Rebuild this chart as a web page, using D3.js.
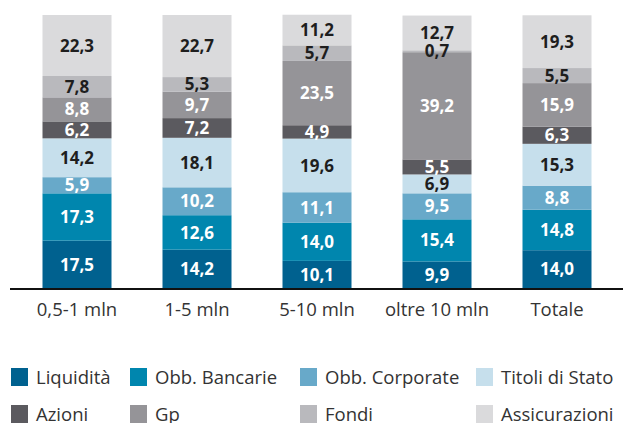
<!DOCTYPE html>
<html>
<head>
<meta charset="utf-8">
<script src="https://cdn.jsdelivr.net/npm/d3@7"></script>
<style>
  html, body { margin: 0; padding: 0; background: #fff; }
  svg { display: block; font-family: "Open Sans", "Noto Sans", sans-serif; }
</style>
</head>
<body>
<svg id="chart" width="623" height="423"></svg>
<script>
// Wealth brackets on the x axis
const categories = ["0,5-1 mln", "1-5 mln", "5-10 mln", "oltre 10 mln", "Totale"];

// Asset classes, stacked from bottom to top
const seriesNames = ["Liquidità", "Obb. Bancarie", "Obb. Corporate", "Titoli di Stato",
                     "Azioni", "Gp", "Fondi", "Assicurazioni"];

// Percentage share of each asset class per bracket
const liquidita     = [17.5, 14.2, 10.1,  9.9, 14.0];
const obbBancarie   = [17.3, 12.6, 14.0, 15.4, 14.8];
const obbCorporate  = [ 5.9, 10.2, 11.1,  9.5,  8.8];
const titoliStato   = [14.2, 18.1, 19.6,  6.9, 15.3];
const azioni        = [ 6.2,  7.2,  4.9,  5.5,  6.3];
const gp            = [ 8.8,  9.7, 23.5, 39.2, 15.9];
const fondi         = [ 7.8,  5.3,  5.7,  0.7,  5.5];
const assicurazioni = [22.3, 22.7, 11.2, 12.7, 19.3];

const seriesValues = [liquidita, obbBancarie, obbCorporate, titoliStato,
                      azioni, gp, fondi, assicurazioni];

const colors = ["#00618f", "#0086ae", "#68a9c9", "#c6dfec",
                "#5b5a5f", "#959498", "#b9b9bd", "#dadadc"];
// Label text colour per series (white on dark fills)
const labelColors = ["#fff", "#fff", "#fff", "#1e1e1e",
                     "#fff", "#fff", "#1e1e1e", "#1e1e1e"];

// Rows for d3.stack
const rows = categories.map((c, i) => {
  const r = { category: c };
  seriesNames.forEach((s, j) => { r[s] = seriesValues[j][i]; });
  return r;
});

const svg = d3.select("#chart");

const x = d3.scaleBand()
  .domain(categories)
  .range([17, 617])
  .paddingInner(0.425)
  .paddingOuter(0.2125);

const y = d3.scaleLinear().domain([0, 100]).range([288.5, 15]);

const stacked = d3.stack().keys(seriesNames)(rows);

const groups = svg.append("g")
  .selectAll("g")
  .data(stacked)
  .join("g")
  .attr("fill", (d, i) => colors[i]);

groups.selectAll("rect")
  .data(d => d)
  .join("rect")
  .attr("x", d => x(d.data.category))
  .attr("width", x.bandwidth())
  .attr("y", d => y(d[1]))
  .attr("height", d => y(d[0]) - y(d[1]));

// Value labels inside each segment
const fmt = v => d3.format(".1f")(v).replace(".", ",");
svg.append("g")
  .selectAll("g")
  .data(stacked)
  .join("g")
  .attr("fill", (d, i) => labelColors[i])
  .selectAll("text")
  .data(d => d.map(p => ({ p, key: d.key })))
  .join("text")
  .attr("x", d => x(d.p.data.category) + x.bandwidth() / 2)
  .attr("y", d => (y(d.p[0]) + y(d.p[1])) / 2)
  .attr("dy", "0.36em")
  .attr("text-anchor", "middle")
  .attr("font-size", 17)
  .attr("font-weight", 700)
  .text(d => fmt(d.p.data[d.key]));

// Category axis
const xAxis = svg.append("g")
  .attr("transform", `translate(0,${y(0)})`)
  .call(d3.axisBottom(x).tickSize(0).tickPadding(14));
xAxis.select(".domain").attr("stroke", "#111").attr("stroke-width", 2)
  .attr("d", "M10,0.5H623");
xAxis.selectAll("text")
  .attr("font-family", "'Open Sans', 'Noto Sans', sans-serif")
  .attr("font-size", 18.5)
  .attr("fill", "#333");

// Legend: two rows of four
const legendCols = [11, 130, 300, 476];
const legendRows = [368, 405];
const legend = svg.append("g")
  .selectAll("g")
  .data(seriesNames)
  .join("g")
  .attr("transform", (d, i) => `translate(${legendCols[i % 4]},${legendRows[Math.floor(i / 4)]})`);
legend.append("rect")
  .attr("width", 17).attr("height", 18)
  .attr("fill", (d, i) => colors[i]);
legend.append("text")
  .attr("x", 25).attr("y", 9)
  .attr("dy", "0.36em")
  .attr("font-size", 18.5)
  .attr("fill", "#333")
  .text(d => d);
</script>
</body>
</html>
